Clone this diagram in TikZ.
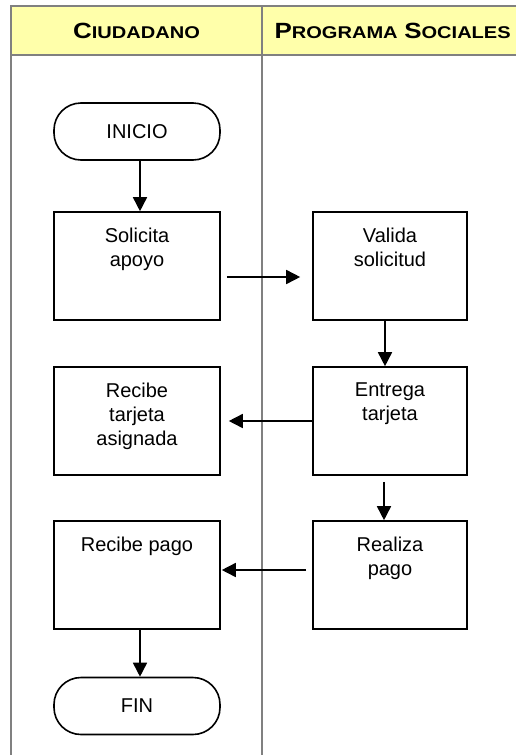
\documentclass[tikz,border=0pt]{standalone}
\usepackage{fontspec}
\setmainfont{Liberation Sans}
\newfontfamily\headfont[FakeStretch=1.18]{Liberation Sans Bold}
\usetikzlibrary{arrows.meta}
\definecolor{amarillo}{RGB}{255,255,170}
\definecolor{gris}{RGB}{128,128,128}
\newcommand{\versal}[2]{{\fontsize{22}{26}\selectfont #1}{\fontsize{17}{20}\selectfont #2}}
\newcommand{\cajatxt}[2]{\parbox[c][108pt][t]{#1}{\centering\vspace*{16pt}#2}}
\tikzset{
  carril/.style={draw=gris,line width=2pt},
  caja/.style={draw,line width=1.6pt,inner sep=0pt},
  term/.style={draw,line width=1.6pt,rounded corners=27pt,minimum width=166pt,minimum height=57pt,inner sep=0pt},
  flecha/.style={line width=1.6pt,-{Triangle[length=14pt,width=14pt]}}
}
\begin{document}
\begin{tikzpicture}[x=1pt,y=-1pt,font=\fontsize{20}{24}\selectfont]
\useasboundingbox (0,0) rectangle (516,755);
% carriles
\fill[amarillo] (11,6) rectangle (516,55);
\draw[carril] (11,755) -- (11,6) -- (516,6);
\draw[carril] (11,55) -- (516,55);
\draw[carril] (262,6) -- (262,755);
\node (ciudadano) at (136.5,30.5) {\headfont\versal{C}{IUDADANO}};
\node[anchor=west] (programa) at (271,30.5) {\headfont\versal{P}{ROGRAMA} \versal{S}{OCIALES}};
% actividades
\node[term] (inicio) at (137,131.5) {INICIO};
\node[caja] (solicita) at (137,266) {\cajatxt{166pt}{Solicita\\apoyo}};
\node[caja] (valida) at (390,266) {\cajatxt{154pt}{Valida\\solicitud}};
\node[caja] (entrega) at (390,421) {\cajatxt{154pt}{Entrega\\tarjeta}};
\node[caja] (tarjeta) at (137,421) {\cajatxt{166pt}{Recibe\\tarjeta\\asignada}};
\node[caja] (realiza) at (390,575) {\cajatxt{154pt}{Realiza\\pago}};
\node[caja] (pago) at (137,575) {\cajatxt{166pt}{Recibe pago}};
\node[term] (fin) at (137,706) {FIN};
% flujo
\draw[flecha] ([xshift=3pt]inicio.south) -- ([xshift=3pt]solicita.north);
\draw[flecha,shorten <=6pt,shorten >=12pt] ([yshift=-11pt]solicita.east) -- ([yshift=-11pt]valida.west);
\draw[flecha] ([xshift=-5pt]valida.south) -- ([xshift=-5pt]entrega.north);
\draw[flecha,shorten >=8pt] (entrega.west) -- (tarjeta.east);
\draw[flecha,shorten <=6pt] ([xshift=-6pt]entrega.south) -- ([xshift=-6pt]realiza.north);
\draw[flecha,shorten <=6pt,shorten >=1pt] ([yshift=5pt]realiza.west) -- ([yshift=5pt]pago.east);
\draw[flecha] ([xshift=3pt]pago.south) -- ([xshift=3pt]fin.north);
\end{tikzpicture}
\end{document}
